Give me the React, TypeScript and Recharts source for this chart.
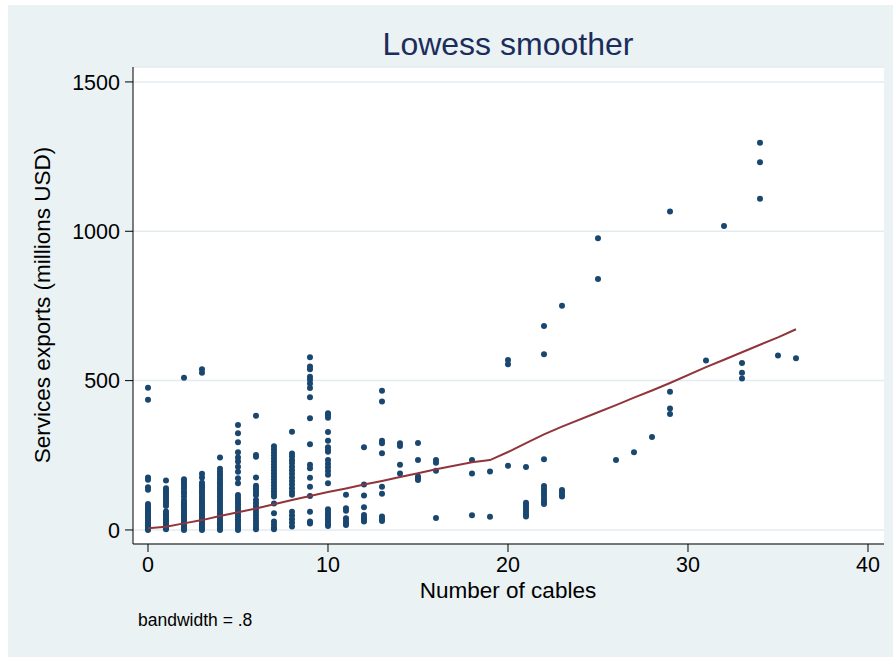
import React from "react";
import { ScatterChart, Scatter, XAxis, YAxis, CartesianGrid } from "recharts";

// Services exports (millions USD) observed at each number of cables
const exports0 = [476, 436, 176, 168, 143, 135, 87, 80, 74, 68, 62, 56, 50, 45, 40, 35, 30, 25, 20, 16, 12, 8, 5, 2, 0];
const exports1 = [166, 140, 132, 125, 118, 110, 102, 95, 88, 80, 62, 55, 48, 42, 36, 30, 24, 18, 12, 6, 2];
const exports2 = [510, 170, 163, 155, 148, 140, 130, 122, 112, 100, 93, 86, 79, 72, 65, 58, 51, 44, 38, 32, 26, 20, 14, 8, 3, 0];
const exports3 = [538, 526, 188, 176, 158, 150, 142, 134, 126, 118, 110, 102, 95, 88, 81, 74, 67, 60, 53, 46, 40, 34, 28, 22, 16, 10, 5, 0];
const exports4 = [243, 205, 195, 186, 177, 168, 160, 152, 144, 136, 128, 120, 112, 104, 96, 88, 80, 72, 64, 56, 48, 40, 33, 26, 19, 12, 6, 0];
const exports5 = [351, 324, 294, 260, 243, 229, 212, 195, 173, 156, 117, 108, 100, 92, 84, 76, 68, 60, 52, 44, 36, 28, 20, 12, 5, 0];
const exports6 = [382, 251, 245, 176, 148, 140, 132, 124, 116, 100, 90, 80, 70, 60, 50, 40, 30, 20, 10, 2];
const exports7 = [280, 270, 260, 250, 240, 230, 220, 210, 200, 190, 180, 170, 160, 150, 140, 130, 120, 112, 89, 56, 28, 18, 8, 2];
const exports8 = [329, 256, 246, 234, 224, 212, 200, 188, 176, 164, 152, 140, 128, 118, 61, 48, 36, 24, 12];
const exports9 = [578, 547, 538, 513, 503, 490, 475, 444, 374, 287, 218, 207, 175, 145, 114, 61, 28, 22];
const exports10 = [391, 384, 376, 328, 299, 277, 268, 262, 234, 222, 210, 197, 185, 156, 69, 60, 52, 44, 36, 28, 20, 13];
const exports11 = [118, 73, 64, 39, 30, 22, 17];
const exports12 = [277, 152, 115, 76, 50, 42, 35, 28];
const exports13 = [466, 430, 299, 290, 257, 145, 121, 45, 36, 30];
const exports14 = [290, 281, 218, 189];
const exports15 = [291, 234, 179, 172, 167];
const exports16 = [234, 225, 198, 40];
const exports18 = [234, 189, 49];
const exports19 = [196, 44];
const exports20 = [569, 555, 215];
const exports21 = [211, 91, 84, 76, 68, 60, 52, 45];
const exports22 = [683, 588, 237, 147, 138, 129, 120, 111, 102, 93, 87];
const exports23 = [751, 134, 126, 118, 112];
const exports25 = [977, 840];
const exports26 = [234];
const exports27 = [260];
const exports28 = [311];
const exports29 = [1066, 463, 407, 388];
const exports31 = [567];
const exports32 = [1018];
const exports33 = [559, 526, 507];
const exports34 = [1296, 1231, 1109];
const exports35 = [584];
const exports36 = [575];

const cableGroups: [number, number[]][] = [
  [0, exports0], [1, exports1], [2, exports2], [3, exports3], [4, exports4],
  [5, exports5], [6, exports6], [7, exports7], [8, exports8], [9, exports9],
  [10, exports10], [11, exports11], [12, exports12], [13, exports13], [14, exports14],
  [15, exports15], [16, exports16], [18, exports18], [19, exports19], [20, exports20],
  [21, exports21], [22, exports22], [23, exports23], [25, exports25], [26, exports26],
  [27, exports27], [28, exports28], [29, exports29], [31, exports31], [32, exports32],
  [33, exports33], [34, exports34], [35, exports35], [36, exports36],
];

// Lowess smoother fitted values
const lowessX = [0, 1, 2, 3, 4, 5, 6, 7, 8, 9, 10, 11, 12, 13, 14, 15, 16, 18, 19, 20, 21, 22, 23, 25, 26, 27, 28, 29, 31, 32, 33, 34, 35, 36];
const lowessY = [6, 11, 22, 33, 47, 59, 72, 86, 100, 114, 127, 139, 152, 164, 177, 190, 203, 227, 234, 261, 291, 320, 346, 394, 418, 443, 467, 492, 545, 570, 595, 620, 645, 672];

const xTicks = [0, 10, 20, 30, 40];
const yTicks = [0, 500, 1000, 1500];

const scatterData = cableGroups.flatMap(([x, ys]) => ys.map((y) => ({ x, y })));
const lowessData = lowessX.map((x, i) => ({ x, y: lowessY[i] }));

const FONT = "'Liberation Sans', Arial, sans-serif";
const NAVY = "#1a476f";
const MAROON = "#90353b";

const Dot = (props: any) => {
  const { cx, cy } = props;
  if (cx == null || cy == null) return <g />;
  return <circle cx={cx} cy={cy} r={3} fill={NAVY} />;
};

export default function App() {
  return (
    <div style={{ position: "absolute", left: 0, top: 0, width: 893, height: 657, background: "#ffffff", fontFamily: FONT }}>
      <div style={{ position: "absolute", left: 8, top: 5, width: 885, height: 652, background: "#EAF2F3" }} />
      <div
        style={{
          position: "absolute",
          left: 508,
          top: 44,
          transform: "translate(-50%, -50%)",
          fontSize: 32,
          color: "#1c2d5c",
          whiteSpace: "nowrap",
          lineHeight: 1,
        }}
      >
        Lowess smoother
      </div>
      <div
        style={{
          position: "absolute",
          left: 43,
          top: 305,
          transform: "translate(-50%, -50%) rotate(-90deg)",
          fontSize: 22.5,
          color: "#000",
          whiteSpace: "nowrap",
          lineHeight: 1,
        }}
      >
        Services exports (millions USD)
      </div>
      <div
        style={{
          position: "absolute",
          left: 508,
          top: 591,
          transform: "translate(-50%, -50%)",
          fontSize: 22.5,
          color: "#000",
          whiteSpace: "nowrap",
          lineHeight: 1,
        }}
      >
        Number of cables
      </div>
      <div
        style={{
          position: "absolute",
          left: 138,
          top: 612,
          fontSize: 17.5,
          color: "#000",
          whiteSpace: "nowrap",
          lineHeight: 1,
        }}
      >
        bandwidth = .8
      </div>
      <div style={{ position: "absolute", left: 0, top: 0 }}>
        <ScatterChart width={893} height={657} margin={{ top: 67, right: 9, bottom: 53, left: 0 }}>
          <CartesianGrid vertical={false} fill="#ffffff" fillOpacity={1} stroke="#E3EBEF" strokeWidth={1.5} />
          <XAxis
            type="number"
            dataKey="x"
            domain={[-0.833, 40.889]}
            ticks={xTicks}
            allowDataOverflow
            height={60}
            tickSize={8}
            tickMargin={5}
            stroke="#000"
            tick={{ fill: "#000", fontSize: 21.5, fontFamily: FONT }}
            tickLine={{ stroke: "#000" }}
            axisLine={{ stroke: "#000" }}
          />
          <YAxis
            type="number"
            dataKey="y"
            domain={[-47, 1550]}
            ticks={yTicks}
            allowDataOverflow
            width={133}
            tickSize={8}
            tickMargin={5}
            stroke="#000"
            tick={{ fill: "#000", fontSize: 21.5, fontFamily: FONT }}
            tickLine={{ stroke: "#000" }}
            axisLine={{ stroke: "#000" }}
          />
          <Scatter data={scatterData} shape={Dot} isAnimationActive={false} />
          <Scatter
            data={lowessData}
            line={{ stroke: MAROON, strokeWidth: 2 }}
            shape={() => <g />}
            isAnimationActive={false}
          />
        </ScatterChart>
      </div>
    </div>
  );
}
